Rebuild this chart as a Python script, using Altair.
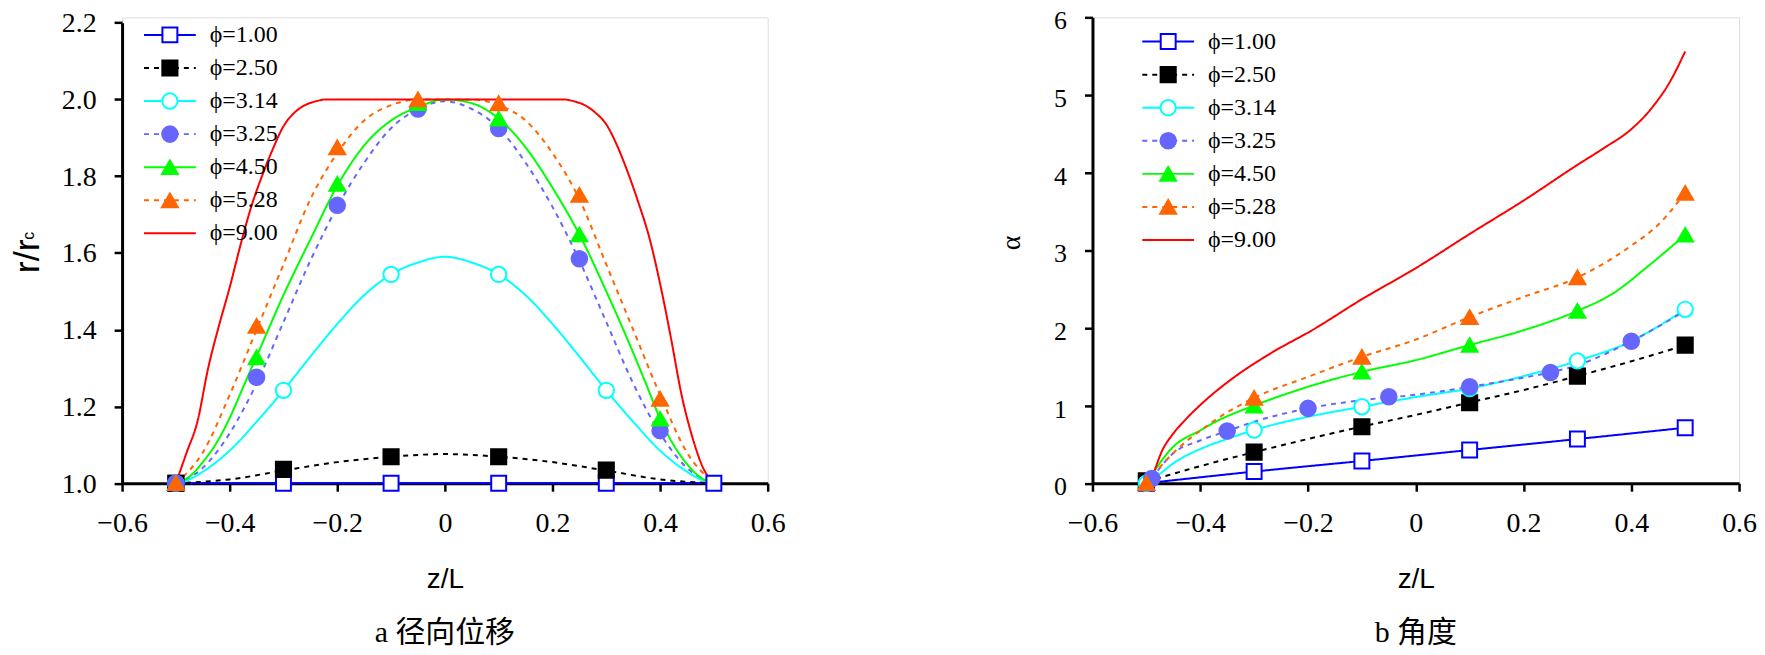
import altair as alt
import pandas as pd

SERIES = ["ϕ=1.00", "ϕ=2.50", "ϕ=3.14", "ϕ=3.25", "ϕ=4.50", "ϕ=5.28", "ϕ=9.00"]
LINE_COLORS = ["#0000ff", "#000000", "#00ffff", "#6666ff", "#00ff00", "#ff6600", "#ff0000"]
LINE_DASHES = [[1, 0], [5, 5], [1, 0], [5, 5], [1, 0], [5, 5], [1, 0]]
MARK_SERIES = SERIES[:6]
MARK_SHAPES = ["square", "square", "circle", "circle", "triangle-up", "triangle-up"]
MARK_FILLS = ["#ffffff", "#000000", "#ffffff", "#6666ff", "#00ff00", "#ff6600"]
MARK_STROKES = ["#0000ff", "#000000", "#00ffff", "#6666ff", "#00ff00", "#ff6600"]
MARK_SIZES = [225, 256, 256, 300, 441, 441]

X_TICKS = [-0.6, -0.4, -0.2, 0.0, 0.2, 0.4, 0.6]
A_Y_TICKS = [1.0, 1.2, 1.4, 1.6, 1.8, 2.0, 2.2]
B_Y_TICKS = [0, 1, 2, 3, 4, 5, 6]

# ---------- panel a : r/rc ----------
A_Z_1 = [-0.5, 0.5]
A_R_1 = [1.0, 1.0]
A_Z_2 = [-0.5, -0.4, -0.3, -0.2, -0.1, 0.0, 0.1, 0.2, 0.3, 0.4, 0.5]
A_R_2 = [1.0, 1.01, 1.033, 1.055, 1.069, 1.076, 1.069, 1.055, 1.033, 1.01, 1.0]
A_Z_3 = [-0.5, -0.475, -0.45, -0.425, -0.4, -0.35, -0.3, -0.25, -0.2, -0.15, -0.1, -0.05, 0.0,
         0.05, 0.1, 0.15, 0.2, 0.25, 0.3, 0.35, 0.4, 0.425, 0.45, 0.475, 0.5]
A_R_3 = [1.0, 1.01, 1.03, 1.055, 1.085, 1.16, 1.242, 1.33, 1.415, 1.49, 1.544, 1.575, 1.59,
         1.575, 1.544, 1.49, 1.415, 1.33, 1.242, 1.16, 1.085, 1.055, 1.03, 1.01, 1.0]
A_Z_4 = [-0.5, -0.45, -0.4, -0.35, -0.3, -0.25, -0.2, -0.15, -0.1, -0.05, 0.0,
         0.05, 0.1, 0.15, 0.2, 0.25, 0.3, 0.35, 0.4, 0.45, 0.5]
A_R_4 = [1.0, 1.04, 1.13, 1.26, 1.42, 1.58, 1.72, 1.835, 1.925, 1.975, 1.995,
         1.975, 1.925, 1.835, 1.72, 1.58, 1.42, 1.26, 1.13, 1.04, 1.0]
A_Z_5 = [-0.5, -0.475, -0.45, -0.425, -0.4, -0.375, -0.35, -0.3, -0.25, -0.2, -0.15, -0.1, -0.05, 0.0,
         0.05, 0.1, 0.15, 0.2, 0.25, 0.3, 0.35, 0.375, 0.4, 0.425, 0.45, 0.475, 0.5]
A_R_5 = [1.0, 1.017, 1.055, 1.104, 1.17, 1.25, 1.33, 1.49, 1.635, 1.775, 1.88, 1.945, 1.98, 2.0,
         1.99, 1.95, 1.875, 1.77, 1.648, 1.5, 1.34, 1.255, 1.168, 1.1, 1.05, 1.015, 1.0]
A_Z_6 = [-0.5, -0.45, -0.4, -0.35, -0.3, -0.25, -0.2, -0.15, -0.1, -0.05, 0.0,
         0.05, 0.1, 0.15, 0.2, 0.25, 0.3, 0.35, 0.4, 0.45, 0.5]
A_R_6 = [1.0, 1.08, 1.23, 1.4, 1.57, 1.74, 1.86, 1.945, 1.985, 2.0, 2.0,
         2.0, 1.985, 1.945, 1.86, 1.74, 1.57, 1.4, 1.23, 1.08, 1.0]
A_Z_7 = [-0.5, -0.48, -0.46, -0.44, -0.42, -0.4, -0.38, -0.36, -0.34, -0.32, -0.3, -0.28, -0.26, -0.24, -0.22,
         0.22, 0.24, 0.26, 0.28, 0.3, 0.32, 0.34, 0.36, 0.38, 0.4, 0.42, 0.44, 0.46, 0.48, 0.5]
A_R_7 = [1.0, 1.08, 1.16, 1.3, 1.41, 1.51, 1.62, 1.72, 1.8, 1.87, 1.93, 1.965, 1.985, 1.995, 2.0,
         2.0, 1.995, 1.985, 1.965, 1.935, 1.88, 1.81, 1.73, 1.64, 1.52, 1.38, 1.23, 1.12, 1.04, 1.0]

AM_Z_1 = [-0.5, -0.3, -0.1, 0.1, 0.3, 0.5]
AM_R_1 = [1.0, 1.0, 1.0, 1.0, 1.0, 1.0]
AM_Z_2 = [-0.5, -0.3, -0.1, 0.1, 0.3]
AM_R_2 = [1.0, 1.036, 1.069, 1.069, 1.034]
AM_Z_3 = [-0.5, -0.3, -0.1, 0.1, 0.3]
AM_R_3 = [1.0, 1.242, 1.544, 1.544, 1.242]
AM_Z_4 = [-0.5, -0.35, -0.2, -0.05, 0.1, 0.25, 0.4]
AM_R_4 = [1.0, 1.276, 1.724, 1.975, 1.924, 1.585, 1.137]
AM_Z_5 = [-0.5, -0.35, -0.2, -0.05, 0.1, 0.25, 0.4]
AM_R_5 = [1.0, 1.328, 1.78, 1.99, 1.95, 1.648, 1.168]
AM_Z_6 = [-0.5, -0.35, -0.2, -0.05, 0.1, 0.25, 0.4]
AM_R_6 = [1.0, 1.41, 1.875, 2.0, 1.99, 1.751, 1.22]

# ---------- panel b : alpha ----------
B_Z_1 = [-0.5, -0.3, -0.1, 0.1, 0.3, 0.5]
B_A_1 = [0.0, 0.15, 0.287, 0.428, 0.569, 0.715]
B_Z_2 = [-0.5, -0.4, -0.3, -0.2, -0.1, 0.0, 0.1, 0.2, 0.3, 0.4, 0.5]
B_A_2 = [0.02, 0.22, 0.4, 0.57, 0.73, 0.88, 1.04, 1.2, 1.38, 1.57, 1.778]
B_Z_3 = [-0.5, -0.475, -0.45, -0.4, -0.35, -0.3, -0.2, -0.1, 0.0, 0.1, 0.2, 0.3, 0.4, 0.45, 0.5]
B_A_3 = [0.0, 0.12, 0.257, 0.44, 0.57, 0.685, 0.856, 0.985, 1.11, 1.22, 1.38, 1.576, 1.83, 2.02, 2.24]
B_Z_4 = [-0.49, -0.45, -0.4, -0.35, -0.3, -0.2, -0.1, 0.0, 0.1, 0.2, 0.25, 0.3, 0.4, 0.5]
B_A_4 = [0.06, 0.386, 0.55, 0.672, 0.792, 0.964, 1.07, 1.14, 1.242, 1.36, 1.427, 1.52, 1.829, 2.22]
B_Z_5 = [-0.5, -0.45, -0.4, -0.365, -0.3, -0.2, -0.1, 0.0, 0.1, 0.2, 0.3, 0.365, 0.433, 0.5]
B_A_5 = [0.0, 0.47, 0.68, 0.814, 1.0, 1.242, 1.435, 1.585, 1.78, 1.97, 2.22, 2.44, 2.806, 3.2]
B_Z_6 = [-0.5, -0.457, -0.39, -0.3, -0.2, -0.1, 0.0, 0.1, 0.2, 0.3, 0.4, 0.45, 0.5]
B_A_6 = [0.0, 0.342, 0.728, 1.1, 1.37, 1.627, 1.85, 2.14, 2.4, 2.65, 3.06, 3.33, 3.74]
B_Z_7 = [-0.5, -0.49, -0.47, -0.45, -0.43, -0.39, -0.34, -0.27, -0.19, -0.1, 0.0, 0.1, 0.2, 0.3,
         0.35, 0.4, 0.44, 0.47, 0.5]
B_A_7 = [0.0, 0.09, 0.43, 0.64, 0.8, 1.07, 1.35, 1.67, 1.98, 2.37, 2.77, 3.21, 3.64, 4.1,
         4.32, 4.56, 4.85, 5.15, 5.56]

BM_Z_1 = [-0.5, -0.3, -0.1, 0.1, 0.3, 0.5]
BM_A_1 = [0.0, 0.15, 0.287, 0.428, 0.569, 0.715]
BM_Z_2 = [-0.5, -0.3, -0.1, 0.1, 0.3, 0.5]
BM_A_2 = [0.03, 0.4, 0.728, 1.036, 1.379, 1.778]
BM_Z_3 = [-0.5, -0.3, -0.1, 0.1, 0.3, 0.5]
BM_A_3 = [0.0, 0.685, 0.985, 1.22, 1.576, 2.24]
BM_Z_4 = [-0.49, -0.35, -0.2, -0.05, 0.1, 0.25, 0.4]
BM_A_4 = [0.06, 0.672, 0.964, 1.113, 1.242, 1.427, 1.829]
BM_Z_5 = [-0.5, -0.3, -0.1, 0.1, 0.3, 0.5]
BM_A_5 = [0.0, 1.0, 1.435, 1.78, 2.22, 3.2]
BM_Z_6 = [-0.5, -0.3, -0.1, 0.1, 0.3, 0.5]
BM_A_6 = [0.0, 1.1, 1.627, 2.14, 2.65, 3.74]

SERIF = "Liberation Serif"
SANS = "Liberation Sans"


def frame(names, zs, vs):
    return pd.concat(
        [pd.DataFrame({"series": n, "z": z, "v": v}) for n, z, v in zip(names, zs, vs)],
        ignore_index=True,
    )


def panel(lines_df, marks_df, w, h, y_domain, y_range, y_ticks, y_fmt, y_label_size, y_label_shift,
          y_title, y_title_font, y_title_size, y_title_x, y_title_y, subtitle, leg_cx, leg_cy,
          inward, frame_rule, extra=None):
    xs = alt.Scale(domain=[-0.6, 0.6], nice=False, zero=False)
    ys = alt.Scale(domain=y_domain, range=y_range, nice=False, zero=False)
    common = dict(ticks=True, tickSize=8, tickWidth=2.5, tickColor="black", labelPadding=18,
                  labelFlush=False, labelOverlap=False, labelFont=SERIF,
                  labelColor="black", domain=True, domainColor="black", domainWidth=3,
                  grid=False, titleFontWeight="normal", titleColor="black",
                  titleBaseline="alphabetic")
    x_kw = dict(common)
    y_kw = dict(common)
    if inward:
        # ticks drawn toward the plot interior
        x_kw["encode"] = {"ticks": {"y2": {"value": -8}}}
        y_kw["encode"] = {"ticks": {"x2": {"value": 8}}}
    x_axis = alt.Axis(values=X_TICKS, format=".1~f", labelFontSize=28, title="z/L", titleFont=SANS,
                      titleFontSize=28, titleY=105, **x_kw)
    y_axis = alt.Axis(values=y_ticks, format=y_fmt, labelFontSize=y_label_size,
                      labelOffset=y_label_shift, title=y_title, titleFont=y_title_font,
                      titleFontSize=y_title_size, titleX=y_title_x, titleY=y_title_y,
                      titleAngle=270, **y_kw)
    leg_common = dict(title=None, orient="none", legendX=leg_cx - 12, legendY=leg_cy - 12,
                      direction="vertical", symbolStrokeWidth=2, labelFont=SERIF,
                      labelFontSize=24, labelColor="black", labelOffset=28, rowPadding=9.2,
                      padding=0, labelLimit=0)
    line_leg = alt.Legend(symbolType="M-3,0H3", symbolSize=300, **leg_common)
    mark_leg = alt.Legend(symbolOpacity=1, labelOpacity=0, **leg_common)
    lines = alt.Chart(lines_df).mark_line(strokeWidth=2, interpolate="monotone").encode(
        x=alt.X("z:Q", scale=xs, axis=x_axis),
        y=alt.Y("v:Q", scale=ys, axis=y_axis),
        color=alt.Color("series:N", scale=alt.Scale(domain=SERIES, range=LINE_COLORS), legend=line_leg),
        strokeDash=alt.StrokeDash("series:N", scale=alt.Scale(domain=SERIES, range=LINE_DASHES),
                                  legend=line_leg),
    )
    pts = alt.Chart(marks_df).mark_point(filled=True, opacity=1, strokeWidth=2).encode(
        x=alt.X("z:Q", scale=xs, axis=x_axis),
        y=alt.Y("v:Q", scale=ys, axis=y_axis),
        shape=alt.Shape("series:N", scale=alt.Scale(domain=MARK_SERIES, range=MARK_SHAPES), legend=mark_leg),
        fill=alt.Fill("series:N", scale=alt.Scale(domain=MARK_SERIES, range=MARK_FILLS), legend=mark_leg),
        stroke=alt.Stroke("series:N", scale=alt.Scale(domain=MARK_SERIES, range=MARK_STROKES), legend=mark_leg),
        size=alt.Size("series:N", scale=alt.Scale(domain=MARK_SERIES, range=MARK_SIZES), legend=mark_leg),
    )
    # invisible layout guide fixing the panel's outer bounds
    fx1, fx2, fy = frame_rule
    guide = alt.Chart(pd.DataFrame({"k": [0]})).mark_rule(opacity=0, strokeWidth=1, color="white").encode(
        x=alt.value(fx1), x2=alt.value(fx2), y=alt.value(fy))
    layers = [lines, pts, guide]
    if extra is not None:
        layers.append(extra)
    return alt.layer(*layers).properties(
        width=w, height=h,
        title=alt.TitleParams(subtitle, orient="bottom", anchor="middle",
                              font="Liberation Serif, Noto Sans CJK SC", fontSize=30,
                              fontWeight="normal", color="black", offset=24),
    )


a_lines = frame(SERIES, [A_Z_1, A_Z_2, A_Z_3, A_Z_4, A_Z_5, A_Z_6, A_Z_7],
                [A_R_1, A_R_2, A_R_3, A_R_4, A_R_5, A_R_6, A_R_7])
a_marks = frame(MARK_SERIES, [AM_Z_1, AM_Z_2, AM_Z_3, AM_Z_4, AM_Z_5, AM_Z_6],
                [AM_R_1, AM_R_2, AM_R_3, AM_R_4, AM_R_5, AM_R_6])
b_lines = frame(SERIES, [B_Z_1, B_Z_2, B_Z_3, B_Z_4, B_Z_5, B_Z_6, B_Z_7],
                [B_A_1, B_A_2, B_A_3, B_A_4, B_A_5, B_A_6, B_A_7])
b_marks = frame(MARK_SERIES, [BM_Z_1, BM_Z_2, BM_Z_3, BM_Z_4, BM_Z_5, BM_Z_6],
                [BM_A_1, BM_A_2, BM_A_3, BM_A_4, BM_A_5, BM_A_6])

sub_c = alt.Chart(pd.DataFrame({"t": ["c"]})).mark_text(
    angle=270, font=SANS, fontSize=16, baseline="alphabetic", align="center", color="black"
).encode(x=alt.value(-88.5), y=alt.value(219.3), text="t:N")

H = 467.6
WL = 648
WR = 649
A_TOP = 5.3


def build(inward):
    left = panel(a_lines, a_marks, WL, H, [1.0, 2.2], [H, A_TOP], A_Y_TICKS, ".1f", 28, 1,
                 "r/r", SANS, 36, -84, 239.3, "a 径向位移", 48, 17.6, inward,
                 (-122, WL + 30, -30), extra=sub_c)
    right = panel(b_lines, b_marks, WR, H, [0, 6], [H, 0], B_Y_TICKS, "d", 26, 3.5,
                  "α", SERIF, 28, -73, 226, "b 角度", 76, 24.3, inward, (-105, 0, -30))
    ch = alt.hconcat(left, right, spacing=189).resolve_scale(
        color="independent", strokeDash="independent", shape="independent", fill="independent",
        stroke="independent", size="independent", x="independent", y="independent",
    ).resolve_legend(
        color="independent", strokeDash="independent", shape="independent", fill="independent",
        stroke="independent", size="independent",
    ).properties(
        padding={"left": -8.5, "top": -22.8, "right": 0, "bottom": 0}
    ).configure_view(stroke=None, strokeWidth=0).configure(background="white")
    ch.to_dict()
    return ch


try:
    chart = build(True)
except Exception:
    chart = build(False)

chart.save("out.html", embed_options={"renderer": "svg", "actions": False})
